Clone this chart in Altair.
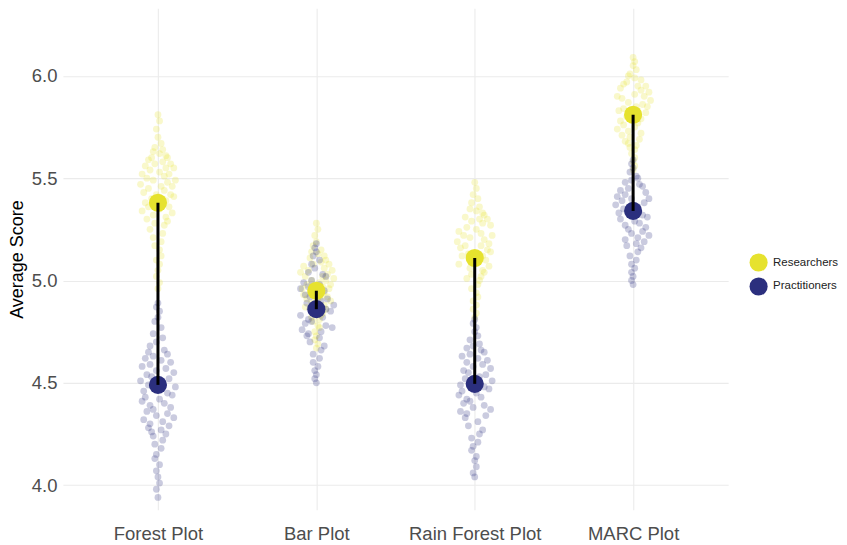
import altair as alt
import pandas as pd

categories = ["Forest Plot", "Bar Plot", "Rain Forest Plot", "MARC Plot"]
groups = ["Researchers", "Practitioners"]
colors = ["#E6E22E", "#2B2F7E"]

# Group means
mean_researchers = [5.38, 4.95, 5.11, 5.81]
mean_practitioners = [4.49, 4.86, 4.495, 5.34]

# Individual scores
forest_r = [5.81, 5.78, 5.74, 5.70, 5.67, 5.65, 5.64, 5.63, 5.62, 5.61, 5.60, 5.60, 5.59, 5.58,
            5.57, 5.57, 5.56, 5.55, 5.55, 5.54, 5.53, 5.52, 5.52, 5.51, 5.50, 5.49, 5.49, 5.48,
            5.47, 5.46, 5.46, 5.45, 5.44, 5.43, 5.42, 5.42, 5.41, 5.40, 5.39, 5.38, 5.37, 5.36,
            5.36, 5.35, 5.34, 5.33, 5.32, 5.31, 5.30, 5.29, 5.28, 5.27, 5.25, 5.23, 5.21, 5.19,
            5.17, 5.15, 5.12, 5.10, 5.08, 5.05, 5.02, 4.99, 4.96]
forest_p = [4.89, 4.87, 4.85, 4.82, 4.80, 4.77, 4.74, 4.72, 4.70, 4.68, 4.66, 4.65, 4.64, 4.63,
            4.62, 4.61, 4.60, 4.59, 4.58, 4.57, 4.56, 4.55, 4.54, 4.53, 4.52, 4.51, 4.50, 4.49,
            4.48, 4.47, 4.46, 4.45, 4.44, 4.43, 4.42, 4.41, 4.40, 4.39, 4.38, 4.37, 4.36, 4.35,
            4.34, 4.33, 4.32, 4.31, 4.30, 4.29, 4.28, 4.27, 4.26, 4.25, 4.24, 4.22, 4.20, 4.18,
            4.15, 4.13, 4.10, 4.07, 4.04, 4.01, 3.98, 3.94]
bar_r = [5.28, 5.25, 5.22, 5.19, 5.17, 5.15, 5.14, 5.13, 5.12, 5.11, 5.10, 5.09, 5.08, 5.08,
         5.07, 5.06, 5.05, 5.05, 5.04, 5.03, 5.02, 5.02, 5.01, 5.00, 5.00, 4.99, 4.98, 4.98,
         4.97, 4.96, 4.96, 4.95, 4.94, 4.94, 4.93, 4.92, 4.92, 4.91, 4.90, 4.90, 4.89, 4.88,
         4.87, 4.86, 4.85, 4.84, 4.83, 4.82, 4.81, 4.80, 4.78, 4.77, 4.75, 4.73, 4.71, 4.69,
         4.67]
bar_p = [5.18, 5.16, 5.14, 5.12, 5.10, 5.08, 5.06, 5.04, 5.03, 5.02, 5.00, 4.99, 4.98, 4.97,
         4.96, 4.95, 4.94, 4.93, 4.92, 4.91, 4.90, 4.89, 4.88, 4.87, 4.86, 4.86, 4.85, 4.84,
         4.83, 4.82, 4.81, 4.80, 4.79, 4.78, 4.77, 4.76, 4.75, 4.74, 4.73, 4.72, 4.70, 4.68,
         4.66, 4.64, 4.62, 4.60, 4.58, 4.56, 4.54, 4.52, 4.50]
rain_r = [5.48, 5.45, 5.42, 5.40, 5.38, 5.36, 5.35, 5.34, 5.33, 5.32, 5.31, 5.30, 5.30, 5.29,
          5.28, 5.27, 5.26, 5.25, 5.24, 5.23, 5.22, 5.22, 5.21, 5.20, 5.19, 5.18, 5.17, 5.17,
          5.16, 5.15, 5.14, 5.13, 5.12, 5.12, 5.11, 5.10, 5.09, 5.08, 5.07, 5.06, 5.05, 5.04,
          5.03, 5.02, 5.01, 5.00, 4.98, 4.96, 4.94, 4.92, 4.90, 4.88, 4.86, 4.84, 4.82]
rain_p = [4.81, 4.79, 4.77, 4.75, 4.73, 4.71, 4.69, 4.68, 4.67, 4.66, 4.65, 4.64, 4.63, 4.62,
          4.61, 4.60, 4.59, 4.58, 4.57, 4.56, 4.55, 4.54, 4.53, 4.52, 4.51, 4.50, 4.49, 4.48,
          4.47, 4.46, 4.45, 4.44, 4.43, 4.42, 4.41, 4.40, 4.39, 4.38, 4.37, 4.36, 4.35, 4.34,
          4.33, 4.31, 4.29, 4.27, 4.25, 4.23, 4.21, 4.19, 4.17, 4.14, 4.12, 4.09, 4.06, 4.04]
marc_r = [6.09, 6.07, 6.05, 6.03, 6.01, 6.00, 5.99, 5.98, 5.97, 5.96, 5.95, 5.95, 5.94, 5.93,
          5.92, 5.91, 5.90, 5.90, 5.89, 5.88, 5.87, 5.86, 5.85, 5.85, 5.84, 5.83, 5.82, 5.81,
          5.80, 5.79, 5.78, 5.77, 5.76, 5.75, 5.74, 5.73, 5.72, 5.71, 5.70, 5.69, 5.68, 5.67,
          5.66, 5.65, 5.64, 5.62, 5.60, 5.58, 5.56, 5.54]
marc_p = [5.59, 5.57, 5.55, 5.53, 5.51, 5.50, 5.49, 5.48, 5.47, 5.46, 5.45, 5.44, 5.43, 5.42,
          5.41, 5.40, 5.40, 5.39, 5.38, 5.37, 5.36, 5.35, 5.34, 5.33, 5.32, 5.31, 5.30, 5.29,
          5.28, 5.27, 5.26, 5.25, 5.24, 5.23, 5.22, 5.21, 5.20, 5.19, 5.18, 5.17, 5.16, 5.14,
          5.12, 5.10, 5.08, 5.06, 5.04, 5.02, 5.00, 4.98]

# horizontal jitter (fraction of category step), narrow at the tails
jitter = [0.00, 0.01, -0.01, 0.00, 0.02, -0.02, 0.03, -0.03, 0.01, 0.05, -0.04, 0.06, -0.06,
          0.03, 0.08, -0.02, -0.08, 0.05, 0.10, -0.05, 0.01, -0.10, 0.07, 0.04, -0.07, 0.11,
          -0.03, 0.06, -0.11, 0.02, 0.09, -0.06, 0.04, -0.09, 0.08, -0.01, 0.10, -0.04, 0.05,
          -0.08, 0.03, 0.07, -0.06, 0.01, -0.10, 0.09, -0.03, 0.05, -0.07, 0.06, -0.02, 0.04,
          -0.05, 0.03, -0.03, 0.02, -0.02, 0.01, 0.02, -0.01, 0.01, 0.00, -0.01, 0.01, 0.00]

raw = {
    ("Forest Plot", "Researchers"): forest_r,
    ("Forest Plot", "Practitioners"): forest_p,
    ("Bar Plot", "Researchers"): bar_r,
    ("Bar Plot", "Practitioners"): bar_p,
    ("Rain Forest Plot", "Researchers"): rain_r,
    ("Rain Forest Plot", "Practitioners"): rain_p,
    ("MARC Plot", "Researchers"): marc_r,
    ("MARC Plot", "Practitioners"): marc_p,
}

rows = []
L = len(jitter)
for (cat, grp), vals in raw.items():
    pos = categories.index(cat) + 1
    sign = 1 if grp == "Researchers" else -1
    n = len(vals)
    for i, v in enumerate(vals):
        k = round(i * (L - 1) / (n - 1))
        rows.append({"pos": pos + sign * jitter[k], "score": v, "group": grp})
points = pd.DataFrame(rows)

means = pd.DataFrame(
    [{"pos": i + 1, "score": m, "group": "Researchers"} for i, m in enumerate(mean_researchers)]
    + [{"pos": i + 1, "score": m, "group": "Practitioners"} for i, m in enumerate(mean_practitioners)]
)
segs = pd.DataFrame({"pos": [1, 2, 3, 4], "r": mean_researchers, "p": mean_practitioners})

label_expr = "['', 'Forest Plot', 'Bar Plot', 'Rain Forest Plot', 'MARC Plot'][datum.value]"
xscale = alt.Scale(domain=[0.4, 4.6], nice=False)
xenc = alt.X("pos:Q", scale=xscale,
             axis=alt.Axis(values=[1, 2, 3, 4], labelExpr=label_expr, title=None))
yscale = alt.Scale(domain=[3.88, 6.33], nice=False, zero=False)
yenc = alt.Y("score:Q", scale=yscale,
             axis=alt.Axis(values=[4.0, 4.5, 5.0, 5.5, 6.0], format=".1f", title="Average Score"))
cscale = alt.Scale(domain=groups, range=colors)
legend = alt.Legend(title=None, orient="none", legendX=687, legendY=245,
                    symbolSize=330, symbolOpacity=1, symbolType="circle", symbolStrokeWidth=0,
                    labelFontSize=11.5, labelColor="#222222", labelOffset=5,
                    rowPadding=5, padding=0)
cenc = alt.Color("group:N", scale=cscale, sort=groups, legend=legend)

jit = alt.Chart(points).mark_circle(size=46, opacity=0.25, stroke=None).encode(
    x=xenc, y=yenc, color=cenc,
)

mean_pts = alt.Chart(means).mark_circle(size=330, opacity=1).encode(
    x=xenc, y=yenc, color=cenc,
)

rule = alt.Chart(segs).mark_rule(color="black", strokeWidth=3).encode(
    x=alt.X("pos:Q", scale=xscale),
    y=alt.Y("r:Q", scale=yscale),
    y2="p:Q",
)

chart = alt.layer(jit, mean_pts, rule).properties(
    width=666, height=502, padding=0
).configure_view(stroke=None).configure_axis(
    grid=True, gridColor="#EBEBEB", gridWidth=1.1, domain=False, ticks=False,
    labelFont="Liberation Sans", labelFontSize=18.5, labelColor="#4D4D4D", labelPadding=6,
    titleFont="Liberation Sans", titleFontSize=18, titleFontWeight="normal", titleColor="#000000",
    titlePadding=5,
).configure_legend(labelFont="Liberation Sans").configure_axisX(labelPadding=15)

chart.save("out.html", embed_options={"renderer": "svg", "actions": False})
